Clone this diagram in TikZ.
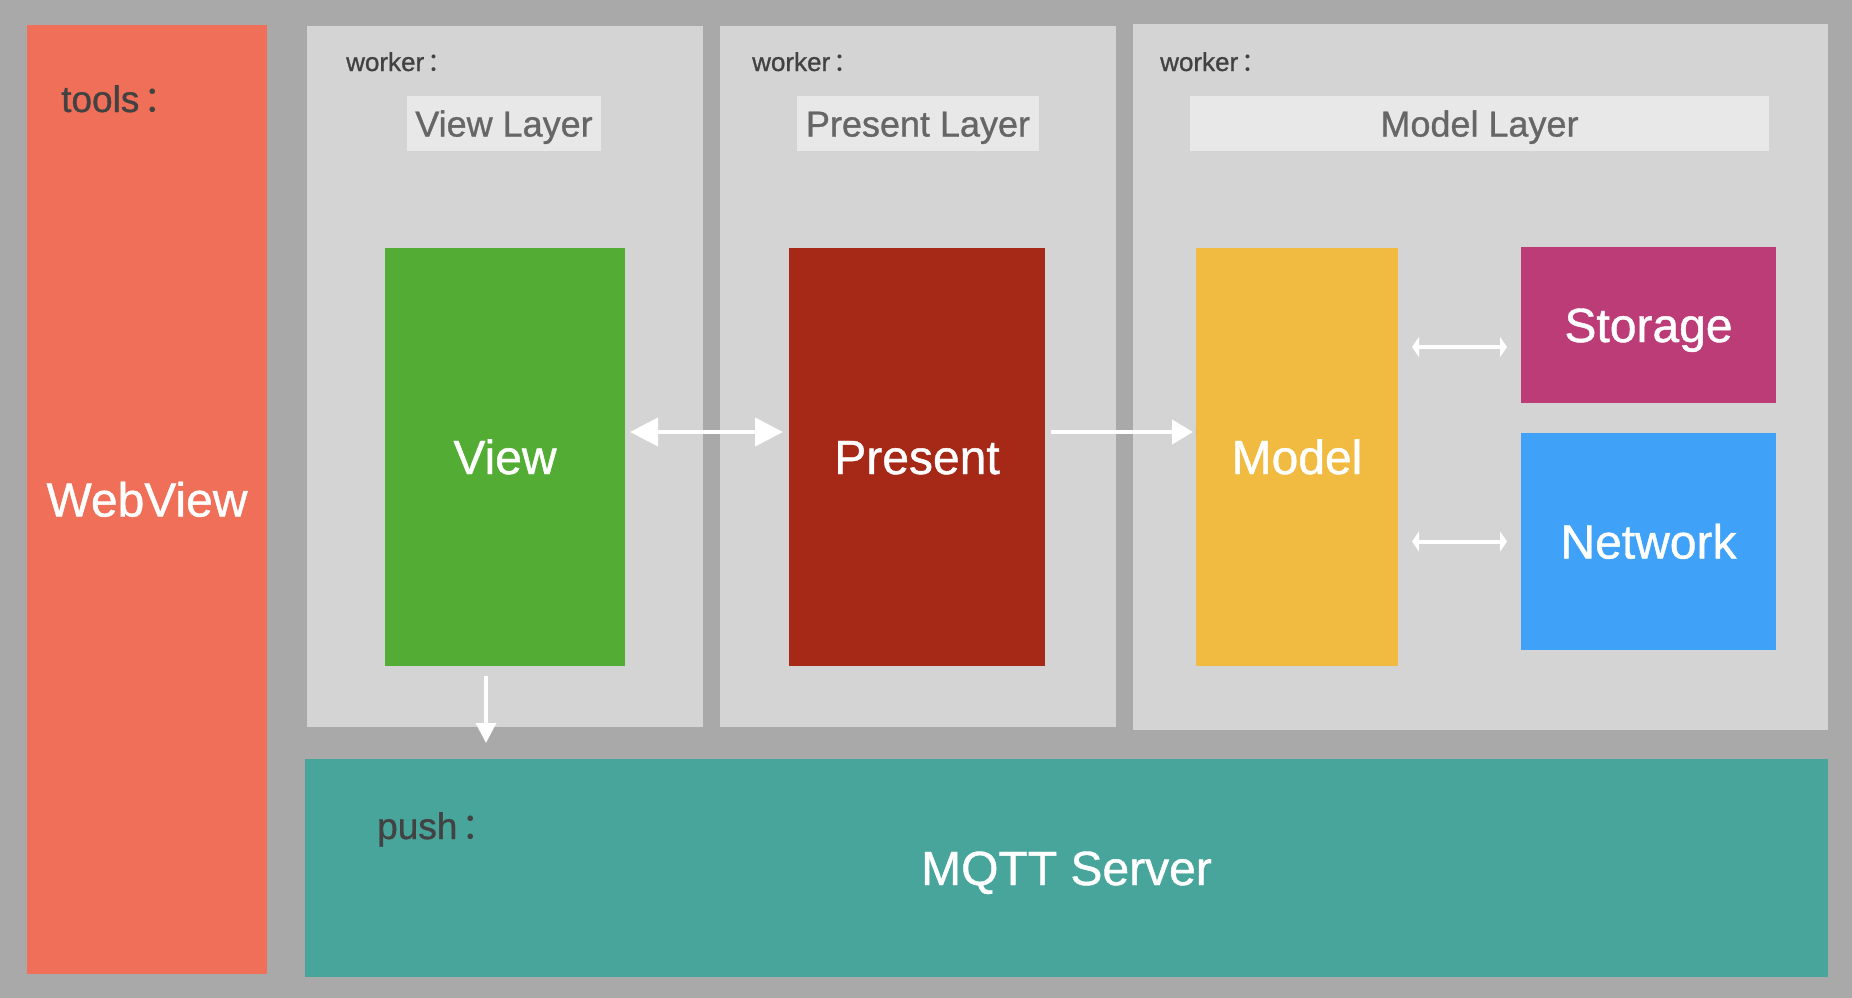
\documentclass[tikz,border=0pt]{standalone}
\usepackage{fontspec}
\setmainfont{Liberation Sans}[FakeBold=0.9]
\newfontfamily\cjk{Noto Sans CJK SC}
\usetikzlibrary{arrows.meta, positioning, calc}
\definecolor{bgGray}{HTML}{A9A9A9}
\definecolor{panelGray}{HTML}{D4D4D4}
\definecolor{labelGray}{HTML}{E8E8E8}
\definecolor{labelInk}{HTML}{666666}
\definecolor{tagInk}{HTML}{424242}
\definecolor{webRed}{HTML}{EF6F58}
\definecolor{viewGreen}{HTML}{53AD34}
\definecolor{presentRed}{HTML}{A62816}
\definecolor{modelYellow}{HTML}{F1BB42}
\definecolor{storageMagenta}{HTML}{BC3C78}
\definecolor{networkBlue}{HTML}{40A1F8}
\definecolor{mqttTeal}{HTML}{48A59C}
\newcommand{\blockfont}{\fontsize{48}{56}\selectfont}
\newcommand{\layerfont}{\fontsize{36}{42}\selectfont}
\newcommand{\tagfont}{\fontsize{37}{44}\selectfont}
\newcommand{\workerfont}{\fontsize{26}{30}\selectfont}
\newcommand{\fullcolon}{\hspace{0.12em}{\cjk ：}}
\tikzset{
  panel/.style={fill=panelGray, inner sep=0pt, outer sep=0pt},
  block/.style={fill=#1, inner sep=0pt, outer sep=0pt, text=white, font=\blockfont,
                text height=34pt, text depth=0pt},
  layerlabel/.style={fill=labelGray, text=labelInk, inner sep=0pt, minimum height=55, font=\layerfont,
                     text height=26pt, text depth=0pt},
  tag/.style={anchor=base west, inner sep=0pt, text=tagInk},
  arrow/.style={draw=white, line width=4pt},
}
\begin{document}
\begin{tikzpicture}[x=1pt, y=-1pt]
\fill[bgGray] (0,0) rectangle (1852,998);
\useasboundingbox (0,0) rectangle (1852,998);
% left column and bottom bar
\node[block=webRed, minimum width=240, minimum height=949] (webview) at (147,499.5) {WebView};
\node[block=mqttTeal, minimum width=1523, minimum height=218] (mqtt) at (1066.5,868) {MQTT Server};
\node[tag, font=\tagfont] (tools) at (61,112) {tools\fullcolon};
\node[tag, font=\tagfont] (push) at (377,839) {push\fullcolon};
% worker panels
\node[panel, minimum width=396, minimum height=701] (viewpanel) at (505,376.5) {};
\node[panel, minimum width=396, minimum height=701] (presentpanel) at (918,376.5) {};
\node[panel, minimum width=695, minimum height=706] (modelpanel) at (1480.5,377) {};
\node[tag, font=\workerfont] (w1) at (346,71) {worker\fullcolon};
\node[tag, font=\workerfont] (w2) at (752,71) {worker\fullcolon};
\node[tag, font=\workerfont] (w3) at (1160,71) {worker\fullcolon};
\node[layerlabel, minimum width=194] (viewlayer) at (504,123.5) {View Layer};
\node[layerlabel, minimum width=242] (presentlayer) at (918,123.5) {Present Layer};
\node[layerlabel, minimum width=579] (modellayer) at (1479.5,123.5) {Model Layer};
% blocks
\node[block=viewGreen, minimum width=240, minimum height=418] (view) at (505,457) {View};
\node[block=presentRed, minimum width=256, minimum height=418] (present) at (917,457) {Present};
\node[block=modelYellow, minimum width=202, minimum height=418] (model) at (1297,457) {Model};
\node[block=storageMagenta, minimum width=255, minimum height=156] (storage) at (1648.5,325) {Storage};
\node[block=networkBlue, minimum width=255, minimum height=217] (network) at (1648.5,541.5) {Network};
% arrows
\draw[arrow, {Triangle[length=28pt,width=28pt]}-{Triangle[length=28pt,width=28pt]}]
  ($(view.east)+(5,-25)$) -- ($(present.west)+(-6,-25)$);
\draw[arrow, -{Triangle[length=21pt,width=24pt]}]
  ($(present.east)+(6,-25)$) -- ($(model.west)+(-3,-25)$);
\draw[arrow, {Triangle[length=7pt,width=20pt]}-{Triangle[length=7pt,width=20pt]}]
  ($(model.east |- storage.west)+(14,22)$) -- ($(storage.west)+(-14,22)$);
\draw[arrow, {Triangle[length=7pt,width=20pt]}-{Triangle[length=7pt,width=20pt]}]
  ($(model.east |- network.west)+(14,0)$) -- ($(network.west)+(-14,0)$);
\draw[arrow, line width=3.5pt, -{Triangle[length=20pt,width=20pt]}]
  ($(view.south)+(-19,10)$) -- ($(view.south |- mqtt.north)+(-19,-16)$);
\end{tikzpicture}
\end{document}
